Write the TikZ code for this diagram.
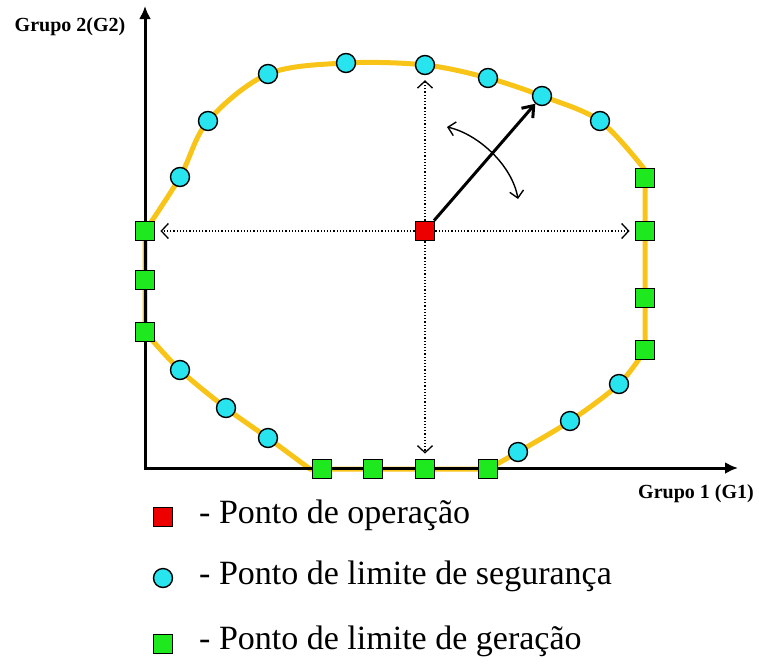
\documentclass[tikz,border=0pt]{standalone}
\usepackage{fontspec}
\setmainfont{Liberation Serif}
\usetikzlibrary{arrows.meta,backgrounds}
\definecolor{gengreen}{RGB}{30,232,30}
\definecolor{segcyan}{RGB}{40,228,238}
\definecolor{opred}{RGB}{236,0,0}
\definecolor{curvey}{RGB}{248,196,24}
\begin{document}
\begin{tikzpicture}[x=1pt,y=-1pt,
  gen/.style={draw=black,line width=1.4pt,fill=gengreen,minimum size=19.5pt,inner sep=0pt},
  opsq/.style={gen,fill=opred},
  seg/.style={circle,draw=black,line width=1.4pt,fill=segcyan,minimum size=19pt,inner sep=0pt},
  curve/.style={draw=curvey,line width=5pt,line cap=round,line join=round},
  axis/.style={line width=3pt,{Latex[length=13pt,width=12pt]}-{Latex[length=13pt,width=12pt]}},
  dotarrow/.style={dash pattern=on 1.2pt off 2pt,line width=1.3pt,-{Straight Barb[length=7pt,width=15pt,line width=1.3pt]},shorten >=5pt},
  mainarrow/.style={line width=3pt,-{Straight Barb[length=10pt,width=15pt]}},
  turnarrow/.style={line width=1.4pt,{Straight Barb[length=7pt,width=14pt]}-{Straight Barb[length=7pt,width=14pt]}},
  axlabel/.style={font=\bfseries\fontsize{20}{22}\selectfont},
  legtext/.style={anchor=west,font=\fontsize{34}{38}\selectfont,inner sep=0pt}]
\useasboundingbox (0,0) rectangle (759,664);
% axes
\coordinate (yend) at (145,6);
\coordinate (O) at (145,468);
\coordinate (xend) at (738,468);
% generation limit points
\node[gen] (g1) at (145,231) {};
\node[gen] (g2) at (145,280) {};
\node[gen] (g3) at (145,332) {};
\node[gen] (g4) at (645,178) {};
\node[gen] (g5) at (645,231) {};
\node[gen] (g6) at (645,298) {};
\node[gen] (g7) at (645,350) {};
\node[gen] (g8) at (322,469) {};
\node[gen] (g9) at (373,469) {};
\node[gen] (g10) at (425,469) {};
\node[gen] (g11) at (488,469) {};
% security limit points
\node[seg] (s1) at (180,177) {};
\node[seg] (s2) at (208,121) {};
\node[seg] (s3) at (268,74) {};
\node[seg] (s4) at (346,63) {};
\node[seg] (s5) at (425,65) {};
\node[seg] (s6) at (488,78) {};
\node[seg] (s7) at (542,96) {};
\node[seg] (s8) at (600,121) {};
\node[seg] (s9) at (619,384) {};
\node[seg] (s10) at (570,421) {};
\node[seg] (s11) at (518,452) {};
\node[seg] (s12) at (268,438) {};
\node[seg] (s13) at (226,408) {};
\node[seg] (s14) at (180,370) {};
% operating point
\node[opsq] (op) at (425,231) {};
\coordinate (tr) at (645,170);
\coordinate (bl) at (310,469);
\begin{scope}[on background layer]
  \draw[curve] (g3.center) -- (g1.center)
    -- plot[smooth,tension=0.55] coordinates {(g1.center) (s1.center) (s2.center) (s3.center) (s4.center) (s5.center) (s6.center) (s7.center) (s8.center) (tr)}
    -- (g7.center)
    -- plot[smooth,tension=0.55] coordinates {(g7.center) (s9.center) (s10.center) (s11.center) (g11.center)}
    -- (bl)
    -- plot[smooth,tension=0.55] coordinates {(bl) (s12.center) (s13.center) (s14.center) (g3.center)};
  \draw[axis] (yend) -- (O) -- (xend);
\end{scope}
% dotted arrows
\draw[dotarrow] (op) -- (s5);
\draw[dotarrow] (op) -- (g10);
\draw[dotarrow] (op) -- (g1);
\draw[dotarrow] (op) -- (g5);
% main arrow
\draw[mainarrow] (op) -- (s7);
% turning arrow
\coordinate (ca) at (447,127);
\coordinate (cb) at (518,199);
\draw[turnarrow] (ca) .. controls (478,134) and (512,165) .. (cb);
% axis labels
\node[axlabel] (ylab) at (70,27) {Grupo 2(G2)};
\node[axlabel] (xlab) at (696,494) {Grupo 1 (G1)};
% legend
\node[opsq] (lop) at (163,517) {};
\node[seg] (lseg) at (163,578) {};
\node[gen] (lgen) at (163,644) {};
\node[legtext] (top) at (199,515) {- Ponto de operação};
\node[legtext] (tseg) at (199,576) {- Ponto de limite de segurança};
\node[legtext] (tgen) at (199,641) {- Ponto de limite de geração};
\end{tikzpicture}
\end{document}
